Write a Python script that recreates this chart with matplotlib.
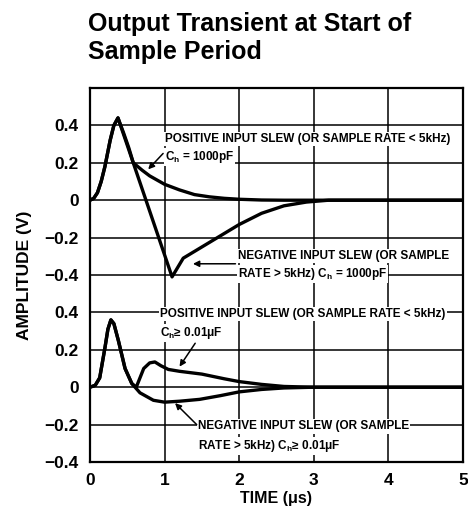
import numpy as np
import matplotlib
matplotlib.use("Agg")
from matplotlib import pyplot as plt

plt.rcParams['font.family'] = ['Liberation Sans', 'DejaVu Sans']
plt.rcParams['font.weight'] = 'bold'
plt.rcParams['mathtext.fontset'] = 'custom'
plt.rcParams['mathtext.rm'] = 'Liberation Sans:bold'
plt.rcParams['mathtext.default'] = 'rm'

# upper pair of curves is drawn on the same axes, shifted up by this much
OFFSET = 1.0

# Ch = 1000pF, positive input slew (upper)
t_pos_big = [0, 0.05, 0.1, 0.15, 0.2, 0.27, 0.32, 0.375, 0.45, 0.52, 0.58, 0.7, 0.8, 1.0,
             1.2, 1.4, 1.6, 1.8, 2.0, 2.3, 2.6, 5.0]
v_pos_big = [0, 0.01, 0.04, 0.1, 0.18, 0.32, 0.40, 0.44, 0.36, 0.28, 0.2, 0.16, 0.13, 0.085,
             0.055, 0.03, 0.018, 0.01, 0.005, 0.001, 0, 0]

# Ch = 1000pF, negative input slew (upper)
t_neg_big = [0, 0.05, 0.1, 0.15, 0.2, 0.27, 0.32, 0.375, 1.1, 1.25, 1.5, 1.75, 2.0, 2.3,
             2.6, 2.9, 3.2, 5.0]
v_neg_big = [0, 0.01, 0.04, 0.1, 0.18, 0.32, 0.40, 0.44, -0.41, -0.31, -0.25, -0.19, -0.13,
             -0.07, -0.03, -0.01, 0, 0]

# Ch >= 0.01uF, positive input slew (lower)
t_pos_small = [0, 0.07, 0.13, 0.2, 0.24, 0.28, 0.32, 0.38, 0.47, 0.56, 0.62, 0.66, 0.72,
               0.8, 0.87, 0.95, 1.05, 1.2, 1.5, 1.8, 2.0, 2.3, 2.6, 3.0, 5.0]
v_pos_small = [0, 0.01, 0.05, 0.21, 0.31, 0.36, 0.34, 0.25, 0.1, 0.02, 0.0, 0.04, 0.1,
               0.13, 0.135, 0.115, 0.095, 0.085, 0.07, 0.045, 0.03, 0.015, 0.004, 0, 0]

# Ch >= 0.01uF, negative input slew (lower)
t_neg_small = [0, 0.07, 0.13, 0.2, 0.24, 0.28, 0.32, 0.38, 0.47, 0.56, 0.67, 0.85, 1.0,
               1.2, 1.47, 1.75, 2.0, 2.3, 2.6, 3.0, 5.0]
v_neg_small = [0, 0.01, 0.05, 0.21, 0.31, 0.36, 0.34, 0.25, 0.1, 0.02, -0.03, -0.07, -0.08,
               -0.075, -0.065, -0.045, -0.025, -0.012, -0.004, 0, 0]

x_ticks = [0, 1, 2, 3, 4, 5]
y_ticks = [-0.4, -0.2, 0, 0.2, 0.4, 0.6, 0.8, 1.0, 1.2, 1.4]
y_labels = ['\u22120.4', '\u22120.2', '0', '0.2', '0.4',
            '\u22120.4', '\u22120.2', '0', '0.2', '0.4']

fig = plt.figure(figsize=(4.68, 5.15), dpi=100)
ax = fig.add_axes([90/468, 1 - 462/515, 373/468, 374/515])

ax.set_xlim(0, 5)
ax.set_ylim(-0.4, 1.6)

# grid
for yy in np.arange(-0.2, 1.5, 0.2):
    ax.axhline(yy, color='black', lw=1.1, zorder=1)
for xx in [1, 2, 3, 4]:
    ax.axvline(xx, color='black', lw=1.1, zorder=1)

lw = 2.4
ax.plot(t_pos_big, np.array(v_pos_big) + OFFSET, color='black', lw=lw, zorder=3,
        solid_joinstyle='round', solid_capstyle='round')
ax.plot(t_neg_big, np.array(v_neg_big) + OFFSET, color='black', lw=lw, zorder=3,
        solid_joinstyle='round', solid_capstyle='round')
ax.plot(t_pos_small, v_pos_small, color='black', lw=lw, zorder=3,
        solid_joinstyle='round', solid_capstyle='round')
ax.plot(t_neg_small, v_neg_small, color='black', lw=lw, zorder=3,
        solid_joinstyle='round', solid_capstyle='round')

ax.set_xticks(x_ticks)
ax.set_xticklabels([str(v) for v in x_ticks])
ax.set_yticks(y_ticks)
ax.set_yticklabels(y_labels)
ax.tick_params(length=0, labelsize=12.5, pad=8)
for lab in ax.get_xticklabels() + ax.get_yticklabels():
    lab.set_fontweight('bold')
for sp in ax.spines.values():
    sp.set_linewidth(1.6)

ax.set_xlabel('TIME (\u03bcs)', fontsize=11.5, fontweight='bold', labelpad=2)
ax.set_ylabel('AMPLITUDE (V)', fontsize=12.5, fontweight='bold', labelpad=9)

box = dict(facecolor='white', edgecolor='none', pad=0.8)
fs = 8.5
arrow = dict(arrowstyle='-|>', color='black', lw=1.1, mutation_scale=9,
             shrinkA=0, shrinkB=0)

# upper annotations
ax.text(1.0, 0.326 + OFFSET, 'POSITIVE INPUT SLEW (OR SAMPLE RATE < 5kHz)',
        fontsize=fs, fontweight='bold', va='center', ha='left', bbox=box, zorder=4)
ax.text(1.0, 0.23 + OFFSET, r'C$_{\rm h}$ = 1000pF',
        fontsize=fs, fontweight='bold', va='center', ha='left', bbox=box, zorder=4)
ax.annotate('', xy=(0.78, 0.165 + OFFSET), xytext=(0.98, 0.25 + OFFSET),
            arrowprops=arrow, zorder=5)

ax.text(1.98, -0.30 + OFFSET, 'NEGATIVE INPUT SLEW (OR SAMPLE',
        fontsize=fs, fontweight='bold', va='center', ha='left', bbox=box, zorder=4)
ax.text(1.98, -0.396 + OFFSET, r'RATE > 5kHz) C$_{\rm h}$ = 1000pF',
        fontsize=fs, fontweight='bold', va='center', ha='left', bbox=box, zorder=4)
ax.annotate('', xy=(1.38, -0.34 + OFFSET), xytext=(1.95, -0.34 + OFFSET),
            arrowprops=arrow, zorder=5)

# lower annotations
ax.text(0.94, 0.39, 'POSITIVE INPUT SLEW (OR SAMPLE RATE < 5kHz)',
        fontsize=fs, fontweight='bold', va='center', ha='left', bbox=box, zorder=4)
ax.text(0.94, 0.29, 'C$_{\\rm h}$\u2265 0.01\u03bcF',
        fontsize=fs, fontweight='bold', va='center', ha='left', bbox=box, zorder=4)
ax.annotate('', xy=(1.2, 0.11), xytext=(1.41, 0.235),
            arrowprops=arrow, zorder=5)

ax.text(1.45, -0.21, 'NEGATIVE INPUT SLEW (OR SAMPLE',
        fontsize=fs, fontweight='bold', va='center', ha='left', bbox=box, zorder=4)
ax.text(1.45, -0.315, 'RATE > 5kHz) C$_{\\rm h}$\u2265 0.01\u03bcF',
        fontsize=fs, fontweight='bold', va='center', ha='left', bbox=box, zorder=4)
ax.annotate('', xy=(1.14, -0.085), xytext=(1.43, -0.2),
            arrowprops=arrow, zorder=5)

fig.text(88/468, 1 - 12/515, 'Output Transient at Start of\nSample Period',
         fontsize=18, fontweight='bold', ha='left', va='top', linespacing=1.2)

fig.savefig('out.png', dpi=100)
